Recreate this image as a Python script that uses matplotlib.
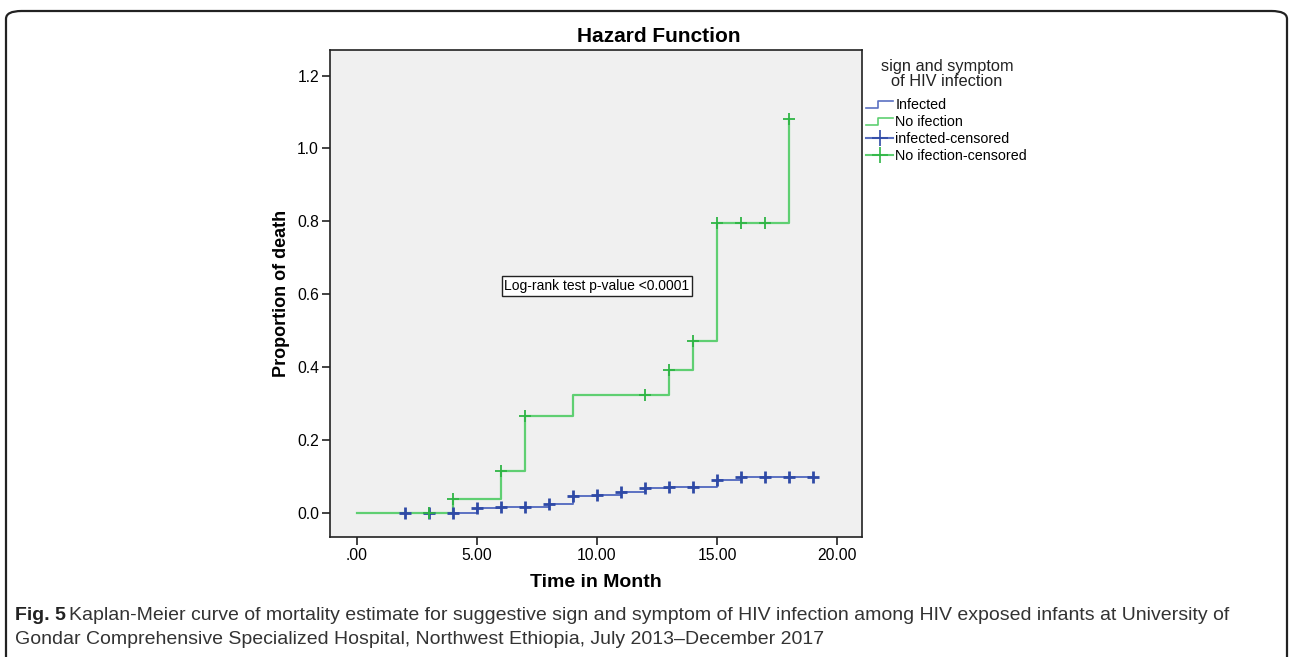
import matplotlib
matplotlib.use("Agg")
import matplotlib.pyplot as plt
from matplotlib.patches import FancyBboxPatch
from matplotlib.lines import Line2D
from matplotlib.legend_handler import HandlerBase

# step curves (event times, cumulative hazard)
inf_t = [0, 5, 6, 8, 9, 10, 11, 12, 13, 15, 16, 19]
inf_y = [0, 0.013, 0.017, 0.024, 0.046, 0.048, 0.058, 0.069, 0.072, 0.089, 0.098, 0.098]
noinf_t = [0, 4, 6, 7, 9, 13, 14, 15, 18]
noinf_y = [0, 0.038, 0.115, 0.265, 0.324, 0.392, 0.472, 0.796, 1.081]

# censored marks
inf_cens_t = [2, 3, 4, 5, 6, 7, 8, 9, 10, 11, 12, 13, 14, 15, 16, 17, 18, 19]
inf_cens_y = [0, 0, 0, 0.013, 0.017, 0.017, 0.024, 0.046, 0.048, 0.058, 0.069,
              0.072, 0.072, 0.089, 0.098, 0.098, 0.098, 0.098]
noinf_cens_t = [3, 4, 6, 7, 12, 13, 14, 15, 16, 17, 18]
noinf_cens_y = [0, 0.038, 0.115, 0.265, 0.324, 0.392, 0.472, 0.796, 0.796, 0.796, 1.081]

xticks = [0, 5, 10, 15, 20]
xtick_labels = [".00", "5.00", "10.00", "15.00", "20.00"]
yticks = [0.0, 0.2, 0.4, 0.6, 0.8, 1.0, 1.2]
ytick_labels = ["0.0", "0.2", "0.4", "0.6", "0.8", "1.0", "1.2"]

BLUE_LINE = "#5b71c2"
BLUE_MARK = "#2f4aa6"
GREEN_LINE = "#5fcf72"
GREEN_MARK = "#2fb545"

plt.rcParams['font.family'] = ['Liberation Sans', 'DejaVu Sans']


class StepHandler(HandlerBase):
    # little step icon like the SPSS legend
    def create_artists(self, legend, orig, xd, yd, w, h, fontsize, trans):
        xs = [xd, xd + w * 0.45, xd + w * 0.45, xd + w]
        ys = [yd + h * 0.1, yd + h * 0.1, yd + h * 0.8, yd + h * 0.8]
        ln = Line2D(xs, ys, color=orig.get_color(), lw=1.2, transform=trans)
        return [ln]


fig = plt.figure(figsize=(12.92, 6.57), dpi=100)

# outer rounded frame
frame = FancyBboxPatch((6 / 1292, -0.05), 1281 / 1292, 1 - 11 / 657 + 0.05,
                       boxstyle="round,pad=0,rounding_size=0.012",
                       transform=fig.transFigure, fill=False, ec="#222222", lw=1.6)
fig.patches.append(frame)

ax = fig.add_axes([330 / 1292, 1 - 537 / 657, 532 / 1292, 487 / 657])
ax.set_facecolor("#f0f0f0")

ax.step(inf_t, inf_y, where="post", color=BLUE_LINE, lw=1.4)
ax.step(noinf_t, noinf_y, where="post", color=GREEN_LINE, lw=1.6)
ax.plot(inf_cens_t, inf_cens_y, ls="none", marker="+", ms=9, mew=2.0, color=BLUE_MARK)
ax.plot(noinf_cens_t, noinf_cens_y, ls="none", marker="+", ms=8, mew=1.3, color=GREEN_MARK)

ax.set_xlim(-1.125, 21.04)
ax.set_ylim(-0.066, 1.27)
ax.set_xticks(xticks)
ax.set_xticklabels(xtick_labels)
ax.set_yticks(yticks)
ax.set_yticklabels(ytick_labels)
ax.tick_params(direction="out", length=6, width=1.2, labelsize=11.3, color="#222222", pad=2)
for sp in ax.spines.values():
    sp.set_linewidth(1.2)
    sp.set_color("#222222")

ax.set_xlabel("Time in Month", fontsize=14, fontweight="bold", labelpad=8)
ax.set_ylabel("Proportion of death", fontsize=13, fontweight="bold", labelpad=5)

ax.text(10.0, 0.623, "Log-rank test p-value <0.0001", ha="center", va="center", fontsize=10,
        bbox=dict(boxstyle="square,pad=0.2", fc="white", ec="#222222", lw=1))

fig.text(659 / 1292, 1 - 36 / 657, "Hazard Function", ha="center", va="center",
         fontsize=15, fontweight="bold")

# legend title, two lines
fig.text(947 / 1292, 1 - 67 / 657, "sign and symptom", ha="center", va="center",
         fontsize=11.8, color="#222222")
fig.text(947 / 1292, 1 - 82 / 657, "of HIV infection", ha="center", va="center",
         fontsize=11.8, color="#222222")

handles = [Line2D([], [], color=BLUE_LINE), Line2D([], [], color=GREEN_LINE),
           Line2D([], [], color=BLUE_LINE, marker="+", ms=11, mew=1.2, markeredgecolor=BLUE_MARK),
           Line2D([], [], color=GREEN_LINE, marker="+", ms=11, mew=1.2, markeredgecolor=GREEN_MARK)]
labels = ["Infected", "No ifection", "infected-censored", "No ifection-censored"]
leg = fig.legend(handles, labels, loc="upper left", bbox_to_anchor=(866 / 1292, 1 - 98 / 657),
                 frameon=False, fontsize=10.3, handlelength=1.9, handletextpad=0.15,
                 labelspacing=0.22, borderaxespad=0, borderpad=0,
                 handler_map={handles[0]: StepHandler(), handles[1]: StepHandler()})

# caption
fig.text(15 / 1292, 1 - 615 / 657, "Fig. 5", fontsize=14, va="center", fontweight="bold",
         color="#222222")
fig.text(69 / 1292, 1 - 615 / 657,
         "Kaplan-Meier curve of mortality estimate for suggestive sign and symptom of HIV infection "
         "among HIV exposed infants at University of",
         fontsize=14, va="center", color="#333333")
fig.text(15 / 1292, 1 - 640 / 657,
         "Gondar Comprehensive Specialized Hospital, Northwest Ethiopia, July 2013\u2013December 2017",
         fontsize=14, va="center", color="#333333")

fig.savefig("out.png", dpi=100)
